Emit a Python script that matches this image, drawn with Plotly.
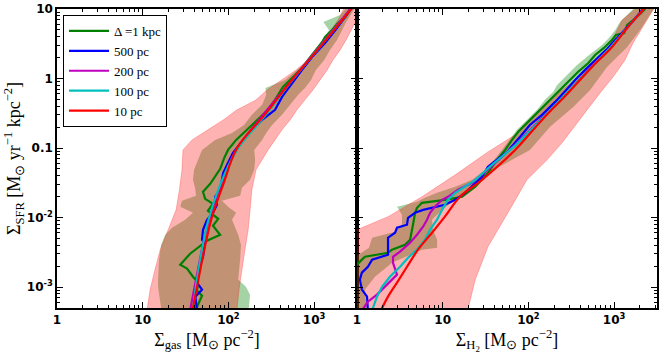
import plotly.graph_objects as go

# ---------------- left panel: Sigma_SFR against Sigma_gas ----------------
# 10 pc scatter band (lo / hi gas surface density at each SFR level)
gas_band10_y = [4e-4, 9.2e-4, 1.78e-3, 3.45e-3, 6.68e-3, 0.0129, 0.0251, 0.0486, 0.094, 0.131, 0.183, 0.254,
                0.354, 0.493, 0.686, 0.955, 1.33, 1.85, 2.58, 3.59, 4.99, 6.95, 10, 12.6]
gas_band10_lo = [11.0, 12.2, 13.9, 16.0, 19.8, 24.5, 26.8, 28.7, 29.5, 37.6, 57.6, 87,
                 126, 210, 282, 422, 615, 850, 1050, 1310, 1580, 1900, 2220, 2420]
gas_band10_hi = [124, 133, 144, 156, 170, 179, 188, 210, 290, 350, 422, 525,
                 631, 780, 970, 1170, 1420, 1660, 2010, 2360, 2770, 3160, 3630, 4000]

# 1 kpc scatter band
gas_band1k_y = [4e-4, 7.78e-4, 1.01e-3, 1.28e-3, 2.48e-3, 4.06e-3, 5.66e-3, 7.13e-3, 9.3e-3, 0.0117,
                0.0143, 0.0174, 0.0206, 0.0268, 0.0349, 0.0486, 0.0676, 0.094, 0.131, 0.165,
                0.215, 0.300, 0.418, 0.581, 0.733, 0.955, 1.33, 1.85, 2.58, 3.59,
                4.99, 6.5, 8.2, 10, 12.6]
gas_band1k_lo = [16.8, 15.5, 15.1, 15.1, 15.5, 16.4, 18.3, 22.0, 31.3, 38.6,
                 27.4, 28.7, 41.9, 40.8, 38.6, 39.7, 44.2, 49.2, 70, 110,
                 152, 188, 247, 276, 270, 458, 631, 850, 1080, 1280,
                 1490, 1280, 2010, 2320, 2630]
gas_band1k_hi = [170, 179, 160, 130, 137, 140, 130, 120, 110, 123,
                 99, 84, 137, 144, 179, 200, 205, 200, 247, 276,
                 323, 422, 525, 647, 780, 920, 1050, 1310, 1530, 1850,
                 2120, 2360, 2630, 2930, 3300]

gas_1kpc_x = [41.1, 49.2, 43.0, 44.2, 38.6, 32.9, 27.4, 35.7, 56.3, 80, 66, 76, 57.6, 66, 53.5, 50.5, 61.3,
              71.5, 80.2, 89.4, 99, 123, 179, 220, 290, 350, 432, 552, 722, 850, 1110, 1240, 1340, 1620, 1900,
              2320, 2630, 2850]
gas_1kpc_y = [4.6e-4, 7.5e-4, 8.9e-4, 1.16e-3, 1.41e-3, 1.84e-3, 2.10e-3, 3.02e-3, 4.64e-3, 5.66e-3, 7.62e-3,
              9.6e-3, 0.0125, 0.0158, 0.0186, 0.0235, 0.0306, 0.0399, 0.0502, 0.0723, 0.094, 0.131, 0.202, 0.254,
              0.354, 0.493, 0.757, 1.02, 1.42, 1.85, 2.75, 3.36, 3.96, 4.99, 6.29, 7.67, 10, 11.4]

gas_500_x = [43.0, 41.1, 49.2, 43.0, 44.2, 50.5, 53.5, 49.2, 50.5, 56.3, 66, 73.6, 70, 80, 84, 87, 99, 113,
             149, 188, 247, 350, 422, 552, 722, 945, 1340, 1770, 2320, 2700, 2920]
gas_500_y = [4.6e-4, 7.28e-4, 9.18e-4, 1.16e-3, 1.61e-3, 2.73e-3, 4.35e-3, 4.80e-3, 6.68e-3, 9.3e-3, 0.0117,
             0.0153, 0.0199, 0.0251, 0.0349, 0.044, 0.0613, 0.0853, 0.131, 0.183, 0.254, 0.354, 0.544, 0.865,
             1.33, 2.04, 3.25, 4.99, 7.67, 10, 11.4]

gas_200_x = [35.7, 39.7, 45.3, 53.5, 64.4, 84, 123, 228, 552, 1340, 2630, 2850]
gas_200_y = [4.6e-4, 9.2e-4, 2.1e-3, 5.66e-3, 0.0129, 0.0316, 0.094, 0.254, 0.955, 3.59, 10, 11.4]

gas_100_x = [38.6, 42, 48, 57.6, 80, 126, 255, 560, 1300, 2700, 2920]
gas_100_y = [4.6e-4, 1.08e-3, 2.92e-3, 8.7e-3, 0.0296, 0.094, 0.272, 0.955, 3.36, 10, 11.4]

gas_10_x = [38.0, 43, 51, 64, 87, 126, 264, 570, 1210, 2700, 2920]
gas_10_y = [4.6e-4, 1.0e-3, 3.0e-3, 0.01, 0.03, 0.1, 0.3, 1, 3, 10, 11.4]

# ---------------- right panel: Sigma_SFR against Sigma_H2 ----------------
h2_band10_lo_y = [4e-4, 0.00668, 0.0103, 0.0199, 0.0412, 0.088, 0.165, 0.493, 0.955, 2.18, 6.95, 10, 12.6]
h2_band10_lo_x = [0.02, 1.0, 2.30, 5.73, 14, 33.7, 76, 179, 350, 780, 1240, 1770, 2100]
h2_band10_hi_y = [4e-4, 0.00128, 0.0038, 0.0117, 0.0349, 0.0676, 0.119, 0.202, 0.354, 0.621, 1.05, 1.85,
                  3.25, 5.51, 9.67, 12.6]
h2_band10_hi_x = [19.0, 24, 33.7, 57.6, 96, 165, 247, 336, 483, 685, 970, 1340, 1660, 2170, 2850, 3300]

h2_band1k_lo_y = [4e-4, 0.00232, 0.00283, 0.00368, 0.00513, 0.00625, 0.00788, 0.011, 0.0143, 0.0169,
                  0.0192, 0.0227, 0.0277, 0.0349, 0.0486, 0.0676, 0.094, 0.131, 0.183, 0.254,
                  0.354, 0.493, 0.642, 0.809, 1.13, 1.57, 2.18, 3.04, 3.83, 4.99,
                  6.5, 8.2, 10, 12.6]
h2_band1k_lo_x = [0.5, 0.5, 1.0, 1.38, 1.5, 2.78, 3.35, 3.35, 2.93, 5.0,
                  6.2, 8.6, 14, 22, 31.3, 39.7, 49, 60, 73.6, 96,
                  126, 156, 194, 216, 282, 369, 510, 722, 870, 1030,
                  1170, 1420, 1700, 2010]
h2_band1k_hi_y = [4e-4, 0.00092, 0.00141, 0.00224, 0.00273, 0.00345, 0.00368, 0.0048, 0.00668, 0.0093,
                  0.0121, 0.0153, 0.0199, 0.0251, 0.0316, 0.0412, 0.0537, 0.094, 0.202, 0.391,
                  0.686, 1.47, 2.84, 4.99, 8.2, 12.6]
h2_band1k_hi_x = [1.31, 1.24, 1.62, 2.56, 3.63, 5.73, 8.6, 8.6, 7.7, 7.5,
                  9.3, 11.5, 15.1, 19.2, 25.8, 32.9, 46, 104, 179, 336,
                  525, 826, 1420, 2010, 2630, 3260]

h2_1kpc_x = [0.83, 1.0, 1.14, 1.24, 2.30, 2.56, 3.63, 4.16, 4.5, 4.76, 5.01, 5.73, 10.6, 16.8, 24, 33.7, 43,
             53.5, 64.4, 76, 99, 137, 179, 235, 306, 378, 500, 600, 760, 945, 1050, 1310, 1420, 1850, 2250, 2420]
h2_1kpc_y = [2.03e-3, 2.10e-3, 2.48e-3, 2.73e-3, 3.12e-3, 3.45e-3, 4.06e-3, 4.80e-3, 7.88e-3, 0.0117, 0.0138,
             0.0163, 0.018, 0.0199, 0.0277, 0.044, 0.0676, 0.094, 0.131, 0.171, 0.238, 0.354, 0.493, 0.686,
             0.955, 1.24, 1.67, 2.18, 2.75, 3.59, 4.23, 4.52, 5.89, 7.67, 9.7, 11.4]

h2_500_x = [1.34, 1.31, 1.14, 1.08, 1.14, 1.34, 1.50, 2.30, 2.30, 2.30, 2.78, 2.93, 3.83, 3.94, 4.76, 5.9,
            10.6, 14, 18.2, 24, 28.7, 33.7, 38.6, 56.3, 80, 104, 144, 205, 276, 350, 458, 615, 806, 1030,
            1340, 1700, 2120, 2320]
h2_500_y = [4.6e-4, 7.28e-4, 9.2e-4, 1.28e-3, 1.61e-3, 1.96e-3, 2.48e-3, 2.92e-3, 3.80e-3, 5.13e-3, 6.05e-3,
            7.13e-3, 7.88e-3, 9.93e-3, 0.0117, 0.0129, 0.0153, 0.018, 0.0227, 0.0316, 0.0386, 0.0537, 0.0613,
            0.088, 0.145, 0.215, 0.30, 0.461, 0.686, 0.955, 1.33, 1.85, 2.58, 3.59, 4.99, 6.95, 9.7, 11.4]

h2_200_x = [1.14, 1.34, 1.71, 2.12, 2.56, 2.93, 2.63, 2.63, 3.18, 4.16, 5.01, 5.9, 6.56, 7.12, 8.1, 9.82,
            11.5, 15.1, 22, 35.7, 70, 137, 270, 525, 945, 1450, 2170, 2320]
h2_200_y = [4.6e-4, 6.17e-4, 7.78e-4, 1.01e-3, 1.28e-3, 1.51e-3, 2.24e-3, 2.73e-3, 3.23e-3, 4.35e-3, 5.66e-3,
            7.38e-3, 9.3e-3, 0.0117, 0.0143, 0.018, 0.0199, 0.0251, 0.0316, 0.052, 0.111, 0.254, 0.581, 1.42,
            2.94, 5.51, 9.7, 11.4]

h2_100_x = [1.50, 1.71, 1.96, 2.42, 3.18, 3.94, 5.01, 6.2, 7.12, 8.58, 9.82, 11.5, 14, 18.2, 24, 37.6, 71.5,
            140, 276, 545, 920, 1450, 2170, 2320]
h2_100_y = [4.6e-4, 7.28e-4, 1.01e-3, 1.41e-3, 1.96e-3, 2.64e-3, 3.45e-3, 4.80e-3, 6.68e-3, 9.3e-3, 0.0129,
            0.018, 0.0227, 0.0277, 0.0349, 0.0574, 0.111, 0.254, 0.601, 1.47, 2.84, 5.51, 9.7, 11.4]

h2_10_x = [1.9, 2.30, 2.93, 3.83, 5.15, 7.5, 10.6, 15.9, 28.7, 70, 144, 290, 552, 945, 1450, 2170, 2420]
h2_10_y = [4.6e-4, 7.28e-4, 1.16e-3, 1.96e-3, 3.45e-3, 6.05e-3, 0.0103, 0.0199, 0.0349, 0.094, 0.254, 0.621,
           1.47, 2.84, 5.51, 9.7, 11.4]

labels = ["Δ =1 kpc", "500 pc", "200 pc", "100 pc", "10 pc"]
colors = ["#008000", "#0000ff", "#bf00bf", "#00bfbf", "#ff0000"]

x_ticks = [1, 10, 100, 1000]
x_ticktext = ["1", "10", "10<sup>2</sup>", "10<sup>3</sup>"]
y_ticks = [1e-3, 1e-2, 0.1, 1, 10]
y_ticktext = ["10<sup>-3</sup>", "10<sup>-2</sup>", "0.1", "1", "10"]

GREEN_FILL = "rgba(0,128,0,0.35)"
RED_FILL = "rgba(255,0,0,0.3)"


def band(lo_x, lo_y, hi_x, hi_y, fill, xa, ya, edge=0):
    return go.Scatter(x=list(lo_x) + list(hi_x)[::-1], y=list(lo_y) + list(hi_y)[::-1],
                      mode="lines", fill="toself", fillcolor=fill,
                      line=dict(width=edge, color=fill), hoverinfo="skip",
                      showlegend=False, xaxis=xa, yaxis=ya)


fig = go.Figure()

# left panel
fig.add_trace(band(gas_band1k_lo, gas_band1k_y, gas_band1k_hi, gas_band1k_y, GREEN_FILL, "x", "y"))
fig.add_trace(band(gas_band10_lo, gas_band10_y, gas_band10_hi, gas_band10_y, RED_FILL, "x", "y", 0.8))
gas_lines = [(gas_1kpc_x, gas_1kpc_y), (gas_500_x, gas_500_y), (gas_200_x, gas_200_y),
             (gas_100_x, gas_100_y), (gas_10_x, gas_10_y)]
for (lx, ly), name, c in zip(gas_lines, labels, colors):
    smooth = name in ("200 pc", "100 pc", "10 pc")
    fig.add_trace(go.Scatter(x=lx, y=ly, mode="lines", name=name,
                             line=dict(color=c, width=2.2, shape="spline" if smooth else "linear"),
                             xaxis="x", yaxis="y"))

# right panel
fig.add_trace(band(h2_band1k_lo_x, h2_band1k_lo_y, h2_band1k_hi_x, h2_band1k_hi_y, GREEN_FILL, "x2", "y2"))
fig.add_trace(band(h2_band10_lo_x, h2_band10_lo_y, h2_band10_hi_x, h2_band10_hi_y, RED_FILL, "x2", "y2", 0.8))
h2_lines = [(h2_1kpc_x, h2_1kpc_y), (h2_500_x, h2_500_y), (h2_200_x, h2_200_y),
            (h2_100_x, h2_100_y), (h2_10_x, h2_10_y)]
for (lx, ly), name, c in zip(h2_lines, labels, colors):
    smooth = name == "10 pc"
    fig.add_trace(go.Scatter(x=lx, y=ly, mode="lines", name=name, showlegend=False,
                             line=dict(color=c, width=2.2, shape="spline" if smooth else "linear"),
                             xaxis="x2", yaxis="y2"))

tick_font = dict(family="DejaVu Sans", size=12, color="black", weight="bold")
title_font = dict(family="Liberation Serif", size=18, color="black")
axis_common = dict(type="log", showline=True, linecolor="black", linewidth=1.5, mirror="allticks",
                   ticks="inside", ticklen=6, tickwidth=1, tickcolor="black", showgrid=False,
                   zeroline=False, tickfont=tick_font, automargin=False, ticklabeloverflow="allow",
                   minor=dict(ticks="inside", ticklen=3, tickwidth=1, tickcolor="black",
                              dtick="D1", showgrid=False))

fig.update_layout(
    width=664, height=363,
    margin=dict(l=57, r=7, t=9, b=55),
    paper_bgcolor="white", plot_bgcolor="white",
    xaxis=dict(domain=[0, 0.5], range=[0, 3.5], anchor="y", tickvals=x_ticks, ticktext=x_ticktext,
               title=dict(text="Σ<sub>gas</sub> [M<sub>⊙</sub> pc<sup>−2</sup>]", font=title_font, standoff=0),
               **axis_common),
    xaxis2=dict(domain=[0.5, 1], range=[0, 3.5], anchor="y2", tickvals=x_ticks, ticktext=x_ticktext,
                title=dict(text="Σ<sub>H<sub>2</sub></sub> [M<sub>⊙</sub> pc<sup>−2</sup>]", font=title_font,
                           standoff=0),
                **axis_common),
    yaxis=dict(domain=[0, 1], range=[-3.301, 1], anchor="x", tickvals=y_ticks, ticktext=y_ticktext,
               title=dict(text="Σ<sub>SFR</sub> [M<sub>⊙</sub> yr<sup>−1</sup> kpc<sup>−2</sup>]",
                          font=title_font, standoff=0),
               **axis_common),
    yaxis2=dict(domain=[0, 1], range=[-3.301, 1], anchor="x2", tickvals=y_ticks, showticklabels=False,
                **axis_common),
    legend=dict(x=0.01, y=0.98, xanchor="left", yanchor="top", bgcolor="white", bordercolor="black",
                borderwidth=1, font=dict(family="Liberation Serif", size=13, color="black"),
                tracegroupgap=0, itemwidth=40),
    showlegend=True,
)

# drop the page's default body margin so the figure sits at the window's corner
fig.write_html("out.html", config={"displayModeBar": False},
               post_script="document.body.style.margin = '0';")
